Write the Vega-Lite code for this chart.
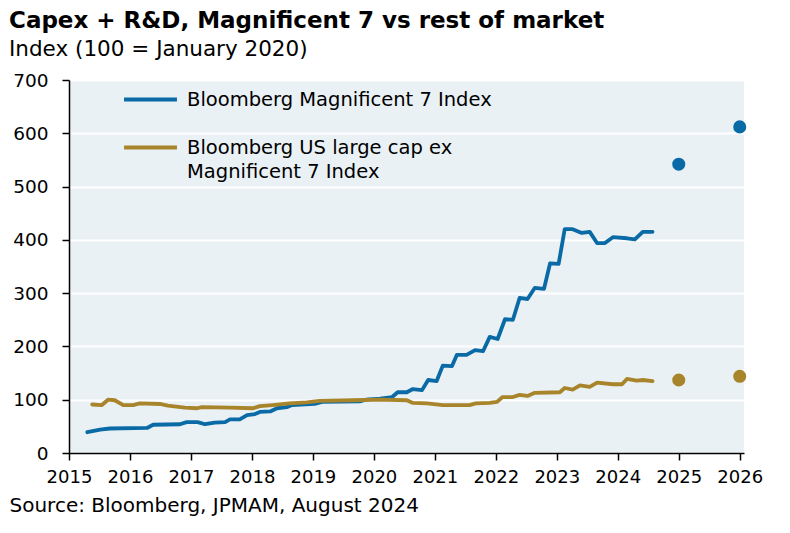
{
  "$schema": "https://vega.github.io/schema/vega-lite/v6.json",
  "width": 675,
  "height": 373,
  "autosize": "none",
  "padding": {"left": 69, "top": 80, "right": 46, "bottom": 80},
  "background": "white",
  "config": {
    "font": "DejaVu Sans",
    "view": {"fill": "#e9f1f5", "stroke": null}
  },
  "title": {
    "text": "Capex + R&D, Magnificent 7 vs rest of market",
    "subtitle": "Index (100 = January 2020)",
    "anchor": "start",
    "frame": "group",
    "dx": -60,
    "offset": 11,
    "font": "DejaVu Sans",
    "fontSize": 23,
    "fontWeight": "bold",
    "color": "black",
    "subtitleFont": "DejaVu Sans",
    "subtitleFontSize": 21.5,
    "subtitleColor": "black",
    "subtitlePadding": 6
  },
  "datasets": {
    "lines": [
      {"series": "Bloomberg Magnificent 7 Index", "year": 2015.30, "value": 39},
      {"series": "Bloomberg Magnificent 7 Index", "year": 2015.51, "value": 44},
      {"series": "Bloomberg Magnificent 7 Index", "year": 2015.67, "value": 46},
      {"series": "Bloomberg Magnificent 7 Index", "year": 2016.28, "value": 47},
      {"series": "Bloomberg Magnificent 7 Index", "year": 2016.38, "value": 53},
      {"series": "Bloomberg Magnificent 7 Index", "year": 2016.82, "value": 54},
      {"series": "Bloomberg Magnificent 7 Index", "year": 2016.93, "value": 58},
      {"series": "Bloomberg Magnificent 7 Index", "year": 2017.11, "value": 58},
      {"series": "Bloomberg Magnificent 7 Index", "year": 2017.23, "value": 54},
      {"series": "Bloomberg Magnificent 7 Index", "year": 2017.39, "value": 57},
      {"series": "Bloomberg Magnificent 7 Index", "year": 2017.56, "value": 58},
      {"series": "Bloomberg Magnificent 7 Index", "year": 2017.64, "value": 63},
      {"series": "Bloomberg Magnificent 7 Index", "year": 2017.80, "value": 63},
      {"series": "Bloomberg Magnificent 7 Index", "year": 2017.92, "value": 71},
      {"series": "Bloomberg Magnificent 7 Index", "year": 2018.05, "value": 73},
      {"series": "Bloomberg Magnificent 7 Index", "year": 2018.13, "value": 77},
      {"series": "Bloomberg Magnificent 7 Index", "year": 2018.30, "value": 78},
      {"series": "Bloomberg Magnificent 7 Index", "year": 2018.41, "value": 84},
      {"series": "Bloomberg Magnificent 7 Index", "year": 2018.57, "value": 86},
      {"series": "Bloomberg Magnificent 7 Index", "year": 2018.66, "value": 90},
      {"series": "Bloomberg Magnificent 7 Index", "year": 2019.03, "value": 92},
      {"series": "Bloomberg Magnificent 7 Index", "year": 2019.15, "value": 96},
      {"series": "Bloomberg Magnificent 7 Index", "year": 2019.77, "value": 97},
      {"series": "Bloomberg Magnificent 7 Index", "year": 2019.87, "value": 100},
      {"series": "Bloomberg Magnificent 7 Index", "year": 2020.10, "value": 102},
      {"series": "Bloomberg Magnificent 7 Index", "year": 2020.30, "value": 105},
      {"series": "Bloomberg Magnificent 7 Index", "year": 2020.39, "value": 114},
      {"series": "Bloomberg Magnificent 7 Index", "year": 2020.54, "value": 114},
      {"series": "Bloomberg Magnificent 7 Index", "year": 2020.64, "value": 120},
      {"series": "Bloomberg Magnificent 7 Index", "year": 2020.79, "value": 118},
      {"series": "Bloomberg Magnificent 7 Index", "year": 2020.89, "value": 137},
      {"series": "Bloomberg Magnificent 7 Index", "year": 2021.03, "value": 135},
      {"series": "Bloomberg Magnificent 7 Index", "year": 2021.13, "value": 164},
      {"series": "Bloomberg Magnificent 7 Index", "year": 2021.28, "value": 163},
      {"series": "Bloomberg Magnificent 7 Index", "year": 2021.36, "value": 184},
      {"series": "Bloomberg Magnificent 7 Index", "year": 2021.52, "value": 184},
      {"series": "Bloomberg Magnificent 7 Index", "year": 2021.66, "value": 193},
      {"series": "Bloomberg Magnificent 7 Index", "year": 2021.79, "value": 191},
      {"series": "Bloomberg Magnificent 7 Index", "year": 2021.90, "value": 218},
      {"series": "Bloomberg Magnificent 7 Index", "year": 2022.03, "value": 214},
      {"series": "Bloomberg Magnificent 7 Index", "year": 2022.15, "value": 251},
      {"series": "Bloomberg Magnificent 7 Index", "year": 2022.28, "value": 250},
      {"series": "Bloomberg Magnificent 7 Index", "year": 2022.39, "value": 291},
      {"series": "Bloomberg Magnificent 7 Index", "year": 2022.52, "value": 289},
      {"series": "Bloomberg Magnificent 7 Index", "year": 2022.64, "value": 310},
      {"series": "Bloomberg Magnificent 7 Index", "year": 2022.79, "value": 308},
      {"series": "Bloomberg Magnificent 7 Index", "year": 2022.89, "value": 356},
      {"series": "Bloomberg Magnificent 7 Index", "year": 2023.03, "value": 355},
      {"series": "Bloomberg Magnificent 7 Index", "year": 2023.13, "value": 420},
      {"series": "Bloomberg Magnificent 7 Index", "year": 2023.26, "value": 420},
      {"series": "Bloomberg Magnificent 7 Index", "year": 2023.41, "value": 413},
      {"series": "Bloomberg Magnificent 7 Index", "year": 2023.54, "value": 415},
      {"series": "Bloomberg Magnificent 7 Index", "year": 2023.66, "value": 394},
      {"series": "Bloomberg Magnificent 7 Index", "year": 2023.79, "value": 394},
      {"series": "Bloomberg Magnificent 7 Index", "year": 2023.92, "value": 405},
      {"series": "Bloomberg Magnificent 7 Index", "year": 2024.15, "value": 403},
      {"series": "Bloomberg Magnificent 7 Index", "year": 2024.28, "value": 401},
      {"series": "Bloomberg Magnificent 7 Index", "year": 2024.41, "value": 415},
      {"series": "Bloomberg Magnificent 7 Index", "year": 2024.57, "value": 415},
      {"series": "Bloomberg US large cap ex Magnificent 7 Index", "year": 2015.38, "value": 91},
      {"series": "Bloomberg US large cap ex Magnificent 7 Index", "year": 2015.54, "value": 90},
      {"series": "Bloomberg US large cap ex Magnificent 7 Index", "year": 2015.64, "value": 100},
      {"series": "Bloomberg US large cap ex Magnificent 7 Index", "year": 2015.75, "value": 99},
      {"series": "Bloomberg US large cap ex Magnificent 7 Index", "year": 2015.89, "value": 90},
      {"series": "Bloomberg US large cap ex Magnificent 7 Index", "year": 2016.05, "value": 90},
      {"series": "Bloomberg US large cap ex Magnificent 7 Index", "year": 2016.16, "value": 93},
      {"series": "Bloomberg US large cap ex Magnificent 7 Index", "year": 2016.49, "value": 92},
      {"series": "Bloomberg US large cap ex Magnificent 7 Index", "year": 2016.62, "value": 89},
      {"series": "Bloomberg US large cap ex Magnificent 7 Index", "year": 2016.90, "value": 85},
      {"series": "Bloomberg US large cap ex Magnificent 7 Index", "year": 2017.10, "value": 84},
      {"series": "Bloomberg US large cap ex Magnificent 7 Index", "year": 2017.18, "value": 86},
      {"series": "Bloomberg US large cap ex Magnificent 7 Index", "year": 2017.64, "value": 85},
      {"series": "Bloomberg US large cap ex Magnificent 7 Index", "year": 2018.02, "value": 84},
      {"series": "Bloomberg US large cap ex Magnificent 7 Index", "year": 2018.13, "value": 88},
      {"series": "Bloomberg US large cap ex Magnificent 7 Index", "year": 2018.34, "value": 90},
      {"series": "Bloomberg US large cap ex Magnificent 7 Index", "year": 2018.62, "value": 93},
      {"series": "Bloomberg US large cap ex Magnificent 7 Index", "year": 2018.90, "value": 95},
      {"series": "Bloomberg US large cap ex Magnificent 7 Index", "year": 2019.11, "value": 98},
      {"series": "Bloomberg US large cap ex Magnificent 7 Index", "year": 2019.66, "value": 99},
      {"series": "Bloomberg US large cap ex Magnificent 7 Index", "year": 2020.10, "value": 100},
      {"series": "Bloomberg US large cap ex Magnificent 7 Index", "year": 2020.54, "value": 99},
      {"series": "Bloomberg US large cap ex Magnificent 7 Index", "year": 2020.64, "value": 94},
      {"series": "Bloomberg US large cap ex Magnificent 7 Index", "year": 2020.87, "value": 93},
      {"series": "Bloomberg US large cap ex Magnificent 7 Index", "year": 2021.13, "value": 90},
      {"series": "Bloomberg US large cap ex Magnificent 7 Index", "year": 2021.57, "value": 90},
      {"series": "Bloomberg US large cap ex Magnificent 7 Index", "year": 2021.67, "value": 93},
      {"series": "Bloomberg US large cap ex Magnificent 7 Index", "year": 2021.90, "value": 94},
      {"series": "Bloomberg US large cap ex Magnificent 7 Index", "year": 2022.02, "value": 96},
      {"series": "Bloomberg US large cap ex Magnificent 7 Index", "year": 2022.11, "value": 105},
      {"series": "Bloomberg US large cap ex Magnificent 7 Index", "year": 2022.28, "value": 105},
      {"series": "Bloomberg US large cap ex Magnificent 7 Index", "year": 2022.39, "value": 109},
      {"series": "Bloomberg US large cap ex Magnificent 7 Index", "year": 2022.52, "value": 107},
      {"series": "Bloomberg US large cap ex Magnificent 7 Index", "year": 2022.64, "value": 113},
      {"series": "Bloomberg US large cap ex Magnificent 7 Index", "year": 2023.05, "value": 114},
      {"series": "Bloomberg US large cap ex Magnificent 7 Index", "year": 2023.13, "value": 122},
      {"series": "Bloomberg US large cap ex Magnificent 7 Index", "year": 2023.26, "value": 119},
      {"series": "Bloomberg US large cap ex Magnificent 7 Index", "year": 2023.38, "value": 127},
      {"series": "Bloomberg US large cap ex Magnificent 7 Index", "year": 2023.54, "value": 124},
      {"series": "Bloomberg US large cap ex Magnificent 7 Index", "year": 2023.66, "value": 132},
      {"series": "Bloomberg US large cap ex Magnificent 7 Index", "year": 2023.92, "value": 129},
      {"series": "Bloomberg US large cap ex Magnificent 7 Index", "year": 2024.07, "value": 129},
      {"series": "Bloomberg US large cap ex Magnificent 7 Index", "year": 2024.15, "value": 139},
      {"series": "Bloomberg US large cap ex Magnificent 7 Index", "year": 2024.31, "value": 136},
      {"series": "Bloomberg US large cap ex Magnificent 7 Index", "year": 2024.41, "value": 137},
      {"series": "Bloomberg US large cap ex Magnificent 7 Index", "year": 2024.57, "value": 135}
    ],
    "forecast": [
      {"series": "Bloomberg Magnificent 7 Index", "year": 2025.0, "value": 542},
      {"series": "Bloomberg Magnificent 7 Index", "year": 2026.0, "value": 612},
      {"series": "Bloomberg US large cap ex Magnificent 7 Index", "year": 2025.0, "value": 137},
      {"series": "Bloomberg US large cap ex Magnificent 7 Index", "year": 2026.0, "value": 144}
    ]
  },
  "encoding": {
    "x": {
      "field": "year",
      "type": "quantitative",
      "scale": {"domain": [2015, 2026.07], "nice": false, "zero": false},
      "axis": {
        "values": [2015, 2016, 2017, 2018, 2019, 2020, 2021, 2022, 2023, 2024, 2025, 2026],
        "format": "d",
        "grid": false,
        "domainColor": "black",
        "domainWidth": 1.5,
        "tickColor": "black",
        "tickWidth": 1.5,
        "tickSize": 7,
        "labelFontSize": 18,
        "labelColor": "black",
        "labelPadding": 8,
        "labelFlush": false,
        "labelOverlap": false,
        "title": "Source: Bloomberg, JPMAM, August 2024",
        "titleFontSize": 20,
        "titleFontWeight": "normal",
        "titleColor": "black",
        "titleAnchor": "start",
        "titleAlign": "left",
        "titleBaseline": "middle",
        "titleX": -60,
        "titleY": 52
      }
    },
    "y": {
      "field": "value",
      "type": "quantitative",
      "scale": {"domain": [0, 700], "nice": false},
      "axis": {
        "values": [0, 100, 200, 300, 400, 500, 600, 700],
        "grid": true,
        "gridColor": "white",
        "gridWidth": 2,
        "gridOpacity": 1,
        "domainColor": "black",
        "domainWidth": 1.5,
        "tickColor": "black",
        "tickWidth": 1.5,
        "tickSize": 7,
        "labelFontSize": 18.5,
        "labelColor": "black",
        "labelPadding": 14,
        "labelFlush": false,
        "labelOverlap": false,
        "title": null
      }
    },
    "color": {
      "field": "series",
      "type": "nominal",
      "scale": {
        "domain": ["Bloomberg Magnificent 7 Index", "Bloomberg US large cap ex Magnificent 7 Index"],
        "range": ["#0a6aa6", "#a8842a"]
      }
    }
  },
  "layer": [
    {
      "data": {"name": "lines"},
      "mark": {"type": "line", "strokeWidth": 3.8, "strokeJoin": "round", "strokeCap": "round"},
      "encoding": {
        "color": {
          "field": "series",
          "type": "nominal",
          "legend": {
            "orient": "none",
            "legendX": 53,
            "legendY": -9,
            "title": null,
            "symbolType": "stroke",
            "symbolSize": 2800,
            "symbolStrokeWidth": 3.8,
            "labelFontSize": 19.5,
            "labelColor": "black",
            "labelLimit": 600,
            "labelOffset": 8,
            "rowPadding": 10,
            "labelBaseline": "middle",
            "labelExpr": "datum.label == 'Bloomberg US large cap ex Magnificent 7 Index' ? ['Bloomberg US large cap ex', 'Magnificent 7 Index'] : datum.label",
            "encode": {"labels": {"update": {"lineHeight": {"value": 24}}}}
          }
        }
      }
    },
    {
      "data": {"name": "forecast"},
      "mark": {"type": "point", "filled": true, "size": 170, "opacity": 1},
      "encoding": {
        "color": {"field": "series", "type": "nominal", "legend": null}
      }
    }
  ]
}
